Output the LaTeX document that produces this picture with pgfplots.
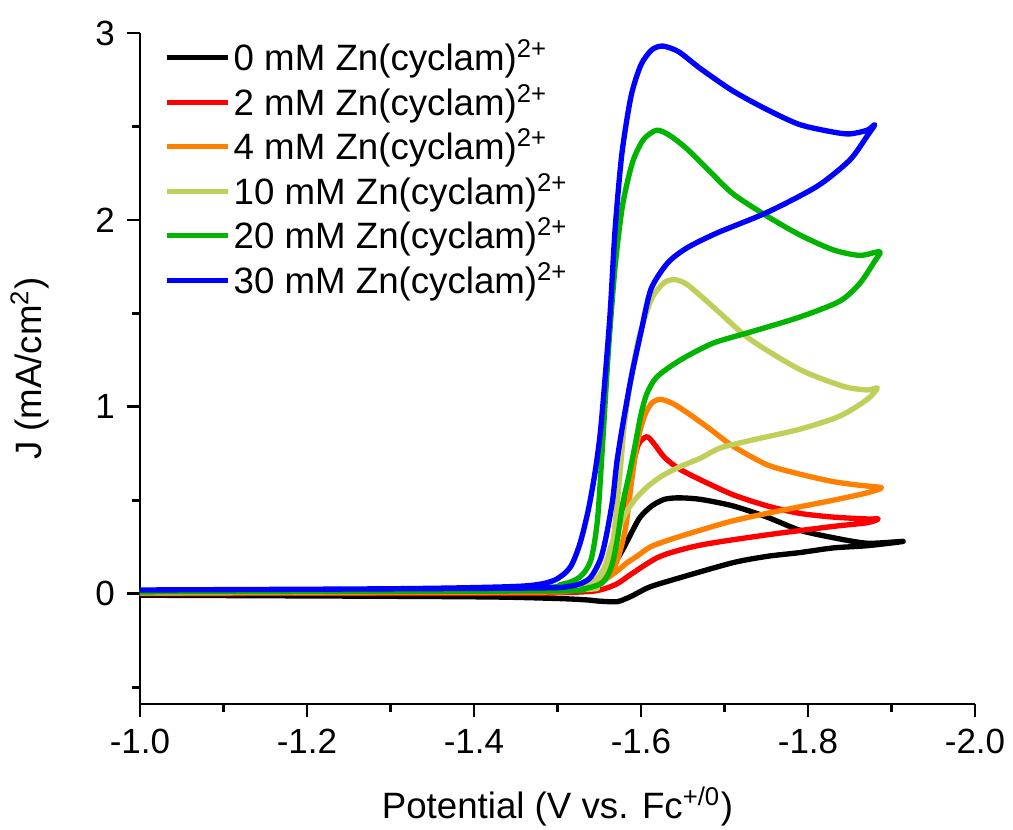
\documentclass[border=0pt]{standalone}
\usepackage{pgfplots}
\pgfplotsset{compat=1.18}
\usepackage{fontspec}
\setmainfont{Liberation Sans}
\definecolor{cOrange}{RGB}{255,128,0}
\definecolor{cOlive}{RGB}{192,206,90}
\definecolor{cGreen}{RGB}{0,180,0}
\definecolor{cBlue}{RGB}{0,0,255}
\definecolor{cRed}{RGB}{255,0,0}
\begin{document}
\begin{tikzpicture}
\begin{axis}[
  scale only axis,
  width=250.5pt, height=201.3pt,
  x dir=reverse,
  xmin=-2.0, xmax=-1.0,
  ymin=-0.59, ymax=3,
  axis x line*=bottom,
  axis y line*=left,
  axis line style={line width=0.8pt,-},
  xtick={-2.0,-1.8,-1.6,-1.4,-1.2,-1.0},
  minor xtick={-1.9,-1.7,-1.5,-1.3,-1.1},
  ytick={0,1,2,3},
  minor ytick={-0.5,0.5,1.5,2.5},
  tick align=outside,
  major tick length=4pt,
  minor tick length=2.4pt,
  tick style={line width=0.8pt,black},
  xticklabel style={/pgf/number format/.cd,fixed,fixed zerofill,precision=1,assume math mode=true},
  yticklabel style={/pgf/number format/.cd,assume math mode=true},
  ticklabel style={font=\fontsize{10.5}{12}\selectfont},
  xlabel={Potential (V vs. Fc\textsuperscript{+/0})},
  ylabel={J (mA/cm\textsuperscript{2})},
  label style={font=\fontsize{11}{13}\selectfont},
  xlabel style={yshift=-3pt},
  ylabel style={yshift=7pt},
  legend style={at={(0.028,0.995)},anchor=north west,draw=none,fill=none,
    font=\fontsize{11}{13}\selectfont,row sep=0.9pt,inner sep=0pt,
    nodes={inner sep=0.8pt}},
  legend cell align=left,
  legend image code/.code={\draw[#1] (0cm,0cm) -- (0.65cm,0cm);},
  every axis plot/.append style={line width=1.6pt,line join=round,smooth,tension=0.45},
  clip=false,
]
\coordinate (O) at (rel axis cs:0,0);
% 0 mM
\addplot[black] coordinates {
(-1.0,-0.008) (-1.311,-0.014) (-1.431,-0.018) (-1.503,-0.026) (-1.535,-0.033) (-1.551,-0.040) (-1.571,-0.043) (-1.580,-0.03) (-1.590,-0.01)
(-1.611,0.037) (-1.650,0.09) (-1.710,0.166) (-1.751,0.20) (-1.790,0.22) (-1.830,0.245) (-1.871,0.257) (-1.914,0.28)
(-1.871,0.27) (-1.830,0.30) (-1.790,0.34) (-1.751,0.41) (-1.710,0.47) (-1.671,0.505) (-1.645,0.513) (-1.628,0.505) (-1.613,0.47)
(-1.599,0.41) (-1.589,0.33) (-1.578,0.235) (-1.563,0.13) (-1.545,0.07) (-1.520,0.04) (-1.491,0.025) (-1.455,0.02) (-1.0,0.012)
};
\addlegendentry{0 mM Zn(cyclam)\textsuperscript{2+}}
% 2 mM
\addplot[cRed] coordinates {
(-1.0,0.004) (-1.455,0.018) (-1.511,0.03) (-1.542,0.05) (-1.556,0.10) (-1.567,0.22) (-1.575,0.40) (-1.583,0.55) (-1.590,0.68)
(-1.597,0.80) (-1.607,0.84) (-1.616,0.80) (-1.628,0.73) (-1.645,0.67) (-1.671,0.61) (-1.710,0.53) (-1.751,0.47) (-1.790,0.43)
(-1.830,0.41) (-1.871,0.40) (-1.884,0.40)
(-1.871,0.38) (-1.830,0.36) (-1.751,0.315) (-1.671,0.26) (-1.623,0.20) (-1.590,0.11) (-1.570,0.05) (-1.545,0.015) (-1.50,0.005) (-1.455,0.003) (-1.0,0.0)
};
\addlegendentry{2 mM Zn(cyclam)\textsuperscript{2+}}
% 4 mM
\addplot[cOrange] coordinates {
(-1.0,0.006) (-1.455,0.02) (-1.530,0.04) (-1.551,0.07) (-1.569,0.15) (-1.581,0.34) (-1.589,0.61) (-1.596,0.82) (-1.605,0.96)
(-1.613,1.02) (-1.623,1.04) (-1.637,1.02) (-1.655,0.97) (-1.683,0.88) (-1.710,0.79) (-1.751,0.69) (-1.790,0.64)
(-1.830,0.60) (-1.862,0.58) (-1.888,0.567)
(-1.871,0.54) (-1.830,0.50) (-1.790,0.465) (-1.751,0.43) (-1.710,0.39) (-1.671,0.34) (-1.635,0.29) (-1.611,0.25)
(-1.595,0.20) (-1.583,0.165) (-1.571,0.12) (-1.547,0.05) (-1.515,0.015) (-1.455,0.008) (-1.0,0.004)
};
\addlegendentry{4 mM Zn(cyclam)\textsuperscript{2+}}
% 10 mM
\addplot[cOlive] coordinates {
(-1.0,0.01) (-1.455,0.02) (-1.523,0.04) (-1.545,0.07) (-1.558,0.14) (-1.567,0.30) (-1.574,0.60) (-1.580,0.90)
(-1.588,1.15) (-1.598,1.38) (-1.613,1.58) (-1.628,1.665) (-1.641,1.68) (-1.655,1.655) (-1.675,1.58) (-1.695,1.50) (-1.731,1.36) (-1.790,1.20)
(-1.842,1.11) (-1.871,1.09) (-1.883,1.10)
(-1.871,1.04) (-1.838,0.95) (-1.790,0.88) (-1.731,0.82) (-1.695,0.78) (-1.671,0.725) (-1.647,0.68) (-1.625,0.63) (-1.607,0.57) (-1.594,0.51)
(-1.583,0.44) (-1.566,0.28) (-1.556,0.14) (-1.540,0.05) (-1.510,0.02) (-1.0,0.005)
};
\addlegendentry{10 mM Zn(cyclam)\textsuperscript{2+}}
% 20 mM
\addplot[cGreen] coordinates {
(-1.0,0.012) (-1.455,0.03) (-1.505,0.05) (-1.527,0.09) (-1.540,0.18) (-1.548,0.40) (-1.554,0.80) (-1.561,1.30) (-1.569,1.75) (-1.578,2.08)
(-1.590,2.31) (-1.603,2.43) (-1.619,2.48) (-1.635,2.45) (-1.655,2.38) (-1.680,2.27) (-1.710,2.14) (-1.751,2.02)
(-1.790,1.92) (-1.830,1.84) (-1.862,1.81) (-1.886,1.83)
(-1.880,1.78) (-1.862,1.66) (-1.838,1.565) (-1.790,1.48) (-1.731,1.40) (-1.686,1.34) (-1.647,1.25) (-1.619,1.16)
(-1.607,1.07) (-1.600,0.96) (-1.594,0.82) (-1.586,0.64) (-1.578,0.48) (-1.572,0.30) (-1.565,0.15) (-1.554,0.06) (-1.530,0.025) (-1.490,0.015) (-1.0,0.01)
};
\addlegendentry{20 mM Zn(cyclam)\textsuperscript{2+}}
% 30 mM
\addplot[cBlue] coordinates {
(-1.0,0.02) (-1.311,0.027) (-1.455,0.04) (-1.495,0.07) (-1.515,0.14) (-1.527,0.27) (-1.537,0.45) (-1.545,0.65)
(-1.551,0.85) (-1.556,1.10) (-1.563,1.50) (-1.569,1.95) (-1.577,2.35) (-1.588,2.66) (-1.600,2.83) (-1.613,2.91) (-1.626,2.93) (-1.645,2.90) (-1.671,2.81)
(-1.710,2.69) (-1.751,2.59) (-1.790,2.51) (-1.830,2.47) (-1.850,2.46) (-1.871,2.48) (-1.880,2.51)
(-1.871,2.45) (-1.850,2.32) (-1.811,2.18) (-1.751,2.04) (-1.691,1.93) (-1.655,1.85) (-1.632,1.77) (-1.612,1.63)
(-1.600,1.40) (-1.588,1.15) (-1.578,0.90) (-1.571,0.70) (-1.566,0.50) (-1.558,0.30) (-1.551,0.18) (-1.538,0.08) (-1.515,0.04) (-1.455,0.03) (-1.0,0.02)
};
\addlegendentry{30 mM Zn(cyclam)\textsuperscript{2+}}
\end{axis}
\pgfresetboundingbox
\path[use as bounding box] ([shift={(-42pt,-37.5pt)}]O) rectangle ([shift={(261.9pt,211.2pt)}]O);
\end{tikzpicture}
\end{document}
